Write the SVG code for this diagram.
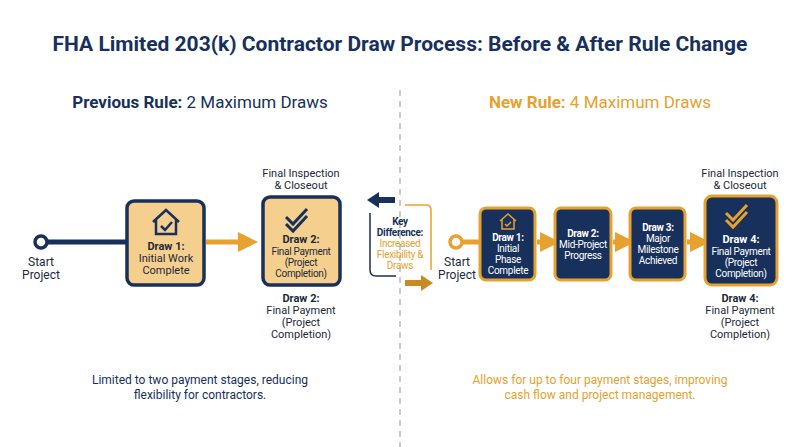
<svg xmlns="http://www.w3.org/2000/svg" width="800" height="447" viewBox="0 0 800 447">
<style>
text{font-family:Roboto,"Liberation Sans",sans-serif;text-anchor:middle;fill:#1c2a3a}
.t{font-size:11px}
.s{font-size:10px;letter-spacing:-0.3px}
.b{font-weight:bold}
.w text{fill:#fff}
.lb{fill:#f5cf8e;stroke:#17305c;stroke-width:3.5}
.nb{fill:#17305c;stroke:#e6a12e;stroke-width:3}
.or{fill:#c98a26}
.nv{fill:#17305c}
</style>
<defs>
<marker id="ao" markerWidth="4" markerHeight="4" refX="2" refY="2" orient="auto" markerUnits="strokeWidth"><path d="M0,0L4,2L0,4z" fill="#e6a12e"/></marker>
</defs>
<rect width="800" height="447" fill="#fff"/>
<text x="400" y="51" font-size="21" class="b" style="fill:#17305c">FHA Limited 203(k) Contractor Draw Process: Before &amp; After Rule Change</text>
<text x="200" y="108" font-size="17" style="fill:#17305c"><tspan class="b">Previous Rule:</tspan> 2 Maximum Draws</text>
<text x="600" y="108" font-size="17" style="fill:#e6a12e"><tspan class="b">New Rule:</tspan> 4 Maximum Draws</text>
<line x1="400" y1="90" x2="400" y2="447" stroke="#ccc" stroke-width="2" stroke-dasharray="6,5"/>
<g id="connectors">
<line x1="47" y1="242" x2="127" y2="242" stroke="#17305c" stroke-width="5"/>
<line x1="206" y1="242" x2="248" y2="242" stroke="#e6a12e" stroke-width="5" marker-end="url(#ao)"/>
<line x1="462" y1="242" x2="480" y2="242" stroke="#e6a12e" stroke-width="5"/>
<line x1="537" y1="242" x2="550" y2="242" stroke="#e6a12e" stroke-width="5" marker-end="url(#ao)"/>
<line x1="613" y1="242" x2="625" y2="242" stroke="#e6a12e" stroke-width="5" marker-end="url(#ao)"/>
<line x1="687" y1="242" x2="700" y2="242" stroke="#e6a12e" stroke-width="5" marker-end="url(#ao)"/>
</g>
<g id="start-left"><circle cx="41" cy="242" r="6" fill="#fff" stroke="#17305c" stroke-width="3.5"/>
<text x="41" y="266" font-size="12">Start</text><text x="41" y="279" font-size="12">Project</text></g>
<g id="draw1-left"><rect class="lb" x="127" y="201" width="77" height="84" rx="7"/>
<path d="M153,222L166,210L179,222M156,219V234H176V219" fill="none" stroke="#17305c" stroke-width="2.5"/>
<path d="M161,226l4,4l7,-8" fill="none" stroke="#17305c" stroke-width="2.5"/>
<text class="t b" x="166" y="250">Draw 1:</text><text class="t" x="166" y="262">Initial Work</text><text class="t" x="166" y="274">Complete</text></g>
<g id="draw2-left"><text class="t" x="301" y="177">Final Inspection</text><text class="t" x="301" y="189">&amp; Closeout</text>
<rect class="lb" x="263" y="197" width="77" height="88" rx="7"/>
<path d="M286,217l7,7l14,-15M286,224l7,7l14,-15" fill="none" stroke="#17305c" stroke-width="3"/>
<text class="t b" x="301" y="243">Draw 2:</text><text class="s" x="301" y="255">Final Payment</text><text class="s" x="301" y="266">(Project</text><text class="s" x="301" y="277">Completion)</text>
<text class="t b" x="301" y="302">Draw 2:</text><text class="t" x="301" y="314">Final Payment</text><text class="t" x="301" y="326">(Project</text><text class="t" x="301" y="338">Completion)</text></g>
<g id="key-difference">
<path d="M370,213V270q0,6 6,6H396" fill="none" stroke="#17305c" stroke-width="1.5"/>
<path d="M405,205H426q5,0 5,5V270" fill="none" stroke="#e6a12e" stroke-width="1.5"/>
<path d="M367,200L379,192V197H395V203H379V208z" class="nv"/>
<path d="M433,283L421,275V280H405V286H421V291z" class="or"/>
<text class="s b" x="400" y="225" style="fill:#17305c">Key</text><text class="s b" x="400" y="236" style="fill:#17305c">Difference:</text>
<text class="s" x="400" y="247" style="fill:#e6a12e">Increased</text><text class="s" x="400" y="258" style="fill:#e6a12e">Flexibility &amp;</text><text class="s" x="400" y="269" style="fill:#e6a12e">Draws</text></g>
<g id="start-right"><circle cx="456" cy="242" r="6" fill="#fff" stroke="#e6a12e" stroke-width="3.5"/>
<text x="457" y="266" font-size="12">Start</text><text x="457" y="279" font-size="12">Project</text></g>
<g id="draw1-right" class="w"><rect class="nb" x="480" y="208" width="55" height="72" rx="6"/>
<path d="M500,221L508,214L516,221M502,219V229H514V219" fill="none" stroke="#e6a12e" stroke-width="1.5"/>
<path d="M505,224l2,2l4,-4" fill="none" stroke="#e6a12e" stroke-width="1.5"/>
<text class="s b" x="508" y="241">Draw 1:</text><text class="s" x="508" y="252">Initial</text><text class="s" x="508" y="263">Phase</text><text class="s" x="508" y="274">Complete</text></g>
<g id="draw2-right" class="w"><rect class="nb" x="555" y="208" width="56" height="72" rx="6"/>
<text class="s b" x="583" y="237">Draw 2:</text><text class="s" x="583" y="248">Mid-Project</text><text class="s" x="583" y="259">Progress</text></g>
<g id="draw3-right" class="w"><rect class="nb" x="630" y="208" width="55" height="72" rx="6"/>
<text class="s b" x="658" y="231">Draw 3:</text><text class="s" x="658" y="242">Major</text><text class="s" x="658" y="253">Milestone</text><text class="s" x="658" y="264">Achieved</text></g>
<g id="draw4-right"><text class="t" x="740" y="177">Final Inspection</text><text class="t" x="740" y="189">&amp; Closeout</text>
<g class="w"><rect class="nb" x="705" y="196" width="72" height="89" rx="7"/>
<path d="M726,213l7,7l14,-15M726,220l7,7l14,-15" fill="none" stroke="#e6a12e" stroke-width="3"/>
<text class="t b" x="741" y="243">Draw 4:</text><text class="s" x="741" y="255">Final Payment</text><text class="s" x="741" y="266">(Project</text><text class="s" x="741" y="277">Completion)</text></g>
<text class="t b" x="740" y="302">Draw 4:</text><text class="t" x="740" y="314">Final Payment</text><text class="t" x="740" y="326">(Project</text><text class="t" x="740" y="338">Completion)</text></g>
<text x="200" y="384" font-size="12" style="fill:#17305c">Limited to two payment stages, reducing</text>
<text x="200" y="399" font-size="12" style="fill:#17305c">flexibility for contractors.</text>
<text x="600" y="384" font-size="12" style="fill:#e6a12e">Allows for up to four payment stages, improving</text>
<text x="600" y="399" font-size="12" style="fill:#e6a12e">cash flow and project management.</text>
</svg>
